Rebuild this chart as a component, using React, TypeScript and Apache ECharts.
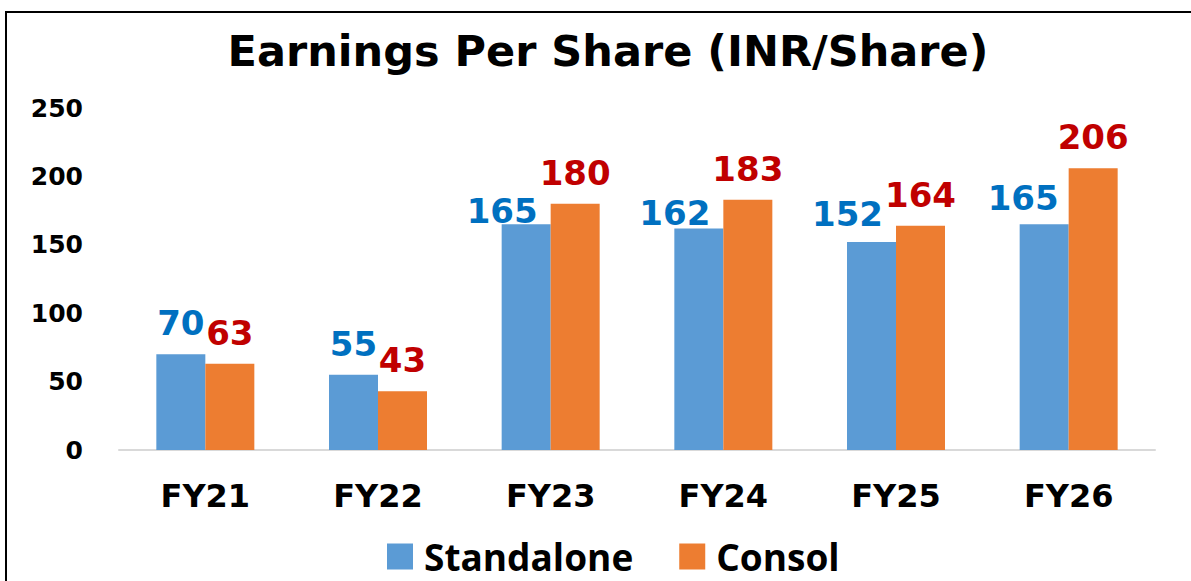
import React, { useEffect, useRef } from "react";
import * as echarts from "echarts";

const categories = ["FY21", "FY22", "FY23", "FY24", "FY25", "FY26"];
const standalone = [70, 55, 165, 162, 152, 165];
const consol = [63, 43, 180, 183, 164, 206];
const yTicks = [0, 50, 100, 150, 200, 250];

// label nudges (style only) for the standalone labels
const standaloneLabelOffsets: [number, number][] = [
  [0, 0],
  [0, 0],
  [-24, 18],
  [-24, 16],
  [-24, 3],
  [-21, 5],
];

const NUM_FONT = "'DejaVu Sans', Verdana, sans-serif";
const TXT_FONT = "'Open Sans', 'DejaVu Sans', sans-serif";

export default function App() {
  const ref = useRef<HTMLDivElement>(null);
  useEffect(() => {
    if (!ref.current) return;
    const chart = echarts.init(ref.current, undefined, { renderer: "svg" });
    chart.setOption({
      animation: false,
      backgroundColor: "#ffffff",
      title: {
        text: "Earnings Per Share (INR/Share)",
        left: 603,
        top: 24,
        textAlign: "center",
        textStyle: {
          fontFamily: NUM_FONT,
          fontWeight: "bold",
          fontSize: 43,
          color: "#000000",
        },
      },
      legend: {
        left: 382,
        top: 533,
        itemWidth: 26,
        itemHeight: 26,
        itemGap: 46,
        icon: "rect",
        textStyle: {
          fontFamily: TXT_FONT,
          fontWeight: "bold",
          fontSize: 37,
          color: "#000000",
          padding: [0, 0, 0, 6],
        },
        data: ["Standalone", "Consol"],
      },
      grid: { left: 119, right: 36, top: 108, bottom: 131, containLabel: false },
      xAxis: {
        type: "category",
        data: categories,
        axisLine: { show: true, lineStyle: { color: "#D9D9D9", width: 2 } },
        axisTick: { show: false },
        axisLabel: {
          margin: 30,
          fontFamily: NUM_FONT,
          fontWeight: "bold",
          fontSize: 32,
          color: "#000000",
        },
      },
      yAxis: {
        type: "value",
        min: yTicks[0],
        max: yTicks[yTicks.length - 1],
        interval: 50,
        axisLine: { show: false },
        axisTick: { show: false },
        splitLine: { show: false },
        axisLabel: {
          margin: 36,
          fontFamily: NUM_FONT,
          fontWeight: "bold",
          fontSize: 25,
          color: "#000000",
        },
      },
      series: [
        {
          name: "Standalone",
          type: "bar",
          barWidth: 49,
          barGap: "0%",
          itemStyle: { color: "#5B9BD5" },
          data: standalone.map((v, i) => ({
            value: v,
            label: { offset: standaloneLabelOffsets[i] },
          })),
          label: {
            show: true,
            position: "top",
            distance: 14,
            fontFamily: NUM_FONT,
            fontWeight: "bold",
            fontSize: 34,
            color: "#0070C0",
          },
        },
        {
          name: "Consol",
          type: "bar",
          barWidth: 49,
          barGap: "0%",
          itemStyle: { color: "#ED7D31" },
          data: consol,
          label: {
            show: true,
            position: "top",
            distance: 14,
            fontFamily: NUM_FONT,
            fontWeight: "bold",
            fontSize: 34,
            color: "#C00000",
          },
        },
      ],
      graphic: [
        {
          type: "rect",
          silent: true,
          shape: { x: 6, y: 12, width: 1400, height: 800 },
          style: { fill: "none", stroke: "#000000", lineWidth: 2 },
        },
      ],
    });
    return () => chart.dispose();
  }, []);
  return (
    <div
      ref={ref}
      style={{ position: "absolute", left: 0, top: 0, width: 1191, height: 581 }}
    />
  );
}
